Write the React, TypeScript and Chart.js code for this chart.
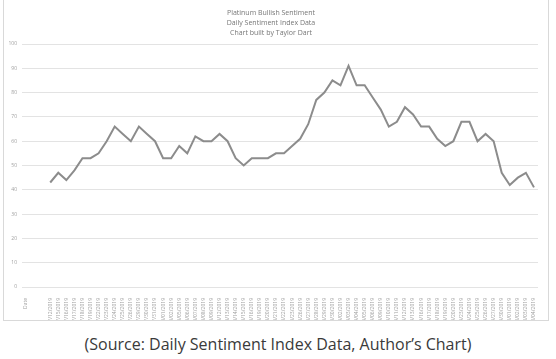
import React, { useEffect, useRef } from "react";
import { Chart, registerables } from "chart.js";

Chart.register(...registerables);

const titleLines = [
  "Platinum Bullish Sentiment",
  "Daily Sentiment Index Data",
  "Chart built by Taylor Dart",
];

const leadingCategories = ["Date", "", ""];

const dates = [
  "07/12/2019", "07/15/2019", "07/16/2019", "07/17/2019", "07/18/2019", "07/19/2019",
  "07/22/2019", "07/23/2019", "07/24/2019", "07/25/2019", "07/26/2019",
  "07/29/2019", "07/30/2019", "07/31/2019", "08/01/2019", "08/02/2019",
  "08/05/2019", "08/06/2019", "08/07/2019", "08/08/2019", "08/09/2019",
  "08/12/2019", "08/13/2019", "08/14/2019", "08/15/2019", "08/16/2019",
  "08/19/2019", "08/20/2019", "08/21/2019", "08/22/2019", "08/23/2019",
  "08/26/2019", "08/27/2019", "08/28/2019", "08/29/2019", "08/30/2019",
  "09/02/2019", "09/03/2019", "09/04/2019", "09/05/2019", "09/06/2019",
  "09/09/2019", "09/10/2019", "09/11/2019", "09/12/2019", "09/13/2019",
  "09/16/2019", "09/17/2019", "09/18/2019", "09/19/2019", "09/20/2019",
  "09/23/2019", "09/24/2019", "09/25/2019", "09/26/2019", "09/27/2019",
  "09/30/2019", "10/01/2019", "10/02/2019", "10/03/2019", "10/04/2019",
];

const sentiment = [
  43, 47, 44, 48, 53, 53, 55, 60, 66, 63, 60,
  66, 63, 60, 53, 53, 58, 55, 62, 60, 60,
  63, 60, 53, 50, 53, 53, 53, 55, 55, 58,
  61, 67, 77, 80, 85, 83, 91, 83, 83, 78,
  73, 66, 68, 74, 71, 66, 66, 61, 58, 60,
  68, 68, 60, 63, 60, 47, 42, 45, 47, 41,
];

const yTicks = [0, 10, 20, 30, 40, 50, 60, 70, 80, 90, 100];

const caption = "(Source: Daily Sentiment Index Data, Author\u2019s Chart)";

export default function App() {
  const canvasRef = useRef<HTMLCanvasElement | null>(null);

  useEffect(() => {
    const canvas = canvasRef.current;
    if (!canvas) return;
    const labels = [...leadingCategories, ...dates];
    const data = [...leadingCategories.map(() => null), ...sentiment];
    const chart = new Chart(canvas, {
      type: "line",
      data: {
        labels,
        datasets: [
          {
            label: "Sentiment",
            data,
            borderColor: "#8c8c8c",
            borderWidth: 2,
            pointRadius: 0,
            tension: 0,
            fill: false,
          },
        ],
      },
      options: {
        responsive: false,
        animation: false,
        devicePixelRatio: 1,
        layout: { padding: { left: 0, right: 10, top: 0, bottom: 0 } },
        plugins: {
          legend: { display: false },
          tooltip: { enabled: false },
          title: {
            display: true,
            text: titleLines,
            color: "#777777",
            font: { family: "'Open Sans', sans-serif", size: 7, weight: "normal", lineHeight: 10 / 7 },
            padding: { top: 8, bottom: 6 },
          },
        },
        scales: {
          x: {
            type: "category",
            offset: true,
            grid: { display: false },
            border: { display: false },
            ticks: {
              autoSkip: false,
              maxRotation: 90,
              minRotation: 90,
              padding: 3,
              color: "#a0a0a0",
              font: { family: "'Open Sans', sans-serif", size: 5 },
            },
            afterFit: (scale: any) => {
              scale.height = 33;
            },
          },
          y: {
            min: 0,
            max: 100,
            afterBuildTicks: (scale: any) => {
              scale.ticks = yTicks.map((v) => ({ value: v }));
            },
            grid: { color: "#e3e3e3", lineWidth: 1, drawTicks: false },
            border: { display: false },
            ticks: {
              padding: 5,
              color: "#a0a0a0",
              font: { family: "'Open Sans', sans-serif", size: 5 },
            },
            afterFit: (scale: any) => {
              scale.width = 18;
            },
          },
        },
      },
    });
    return () => chart.destroy();
  }, []);

  return (
    <div style={{ position: "fixed", left: 0, top: 0, width: 556, height: 359, background: "#fff", overflow: "hidden" }}>
      <div
        style={{
          position: "absolute",
          left: 3,
          top: -1,
          width: 544,
          height: 320,
          border: "1px solid #d9d9d9",
        }}
      >
        <canvas ref={canvasRef} width={544} height={320} style={{ display: "block", width: 544, height: 320 }} />
      </div>
      <div
        style={{
          position: "absolute",
          left: 0,
          width: 556,
          top: 333,
          textAlign: "center",
          fontFamily: "'Open Sans', sans-serif",
          fontSize: 16,
          color: "#3a3a3a",
          lineHeight: "22px",
        }}
      >
        {caption}
      </div>
    </div>
  );
}
